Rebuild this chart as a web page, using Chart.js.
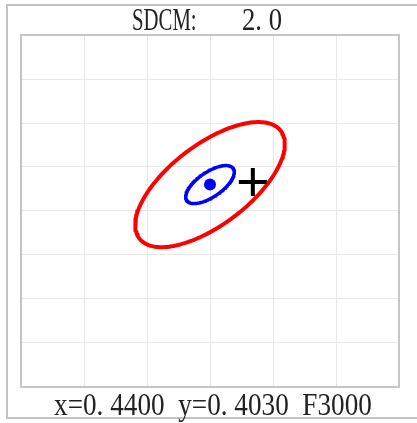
<!DOCTYPE html>
<html>
<head>
<meta charset="utf-8">
<script src="https://cdn.jsdelivr.net/npm/chart.js@4"></script>
<style>
  html, body { margin: 0; padding: 0; background: #fff; overflow: hidden; }
  #wrap { position: relative; width: 417px; height: 423px; overflow: hidden; }
  canvas { position: absolute; left: 0; top: 0; }
  .txt { position: absolute; font-family: "Liberation Serif", serif; color: #222; white-space: pre; line-height: 1; }
  #t1 { left: 132px; top: 4px; font-size: 31px; transform: scaleX(0.67); transform-origin: left top; }
  #t2 { left: 242px; top: 4px; font-size: 31px; transform: scaleX(0.86); transform-origin: left top; }
  #bottom { right: 45px; top: 388px; font-size: 32px; transform: scaleX(0.85); transform-origin: right top; }
</style>
</head>
<body>
<div id="wrap">
  <canvas id="chart" width="417" height="423"></canvas>
  <div class="txt" id="t1">SDCM:</div>
  <div class="txt" id="t2">2. 0</div>
  <div class="txt" id="bottom">x=0. 4400  y=0. 4030  F3000</div>
</div>
<script>
// grid ticks (chromaticity x, y)
const xTicks = [0.425, 0.430, 0.435, 0.440, 0.445, 0.450, 0.455];
const yTicks = [0.380, 0.385, 0.390, 0.395, 0.400, 0.405, 0.410, 0.415, 0.420];

// ellipses: outer (red) and inner (blue)
const ellipseColors = ['#ff0000', '#0000ff'];
const ellipseCx = [0.4400, 0.4400];
const ellipseCy = [0.4030, 0.4030];
const ellipseA = [0.00844, 0.00264];
const ellipseB = [0.00381, 0.00119];
const ellipseDeg = [52.8, 49.9];

// target (dot) and measured (cross) points
const targetPt = [0.4400, 0.4030];
const measuredPt = [0.4434, 0.4033];

function ellipseOutline(i) {
  const pts = [];
  const th = ellipseDeg[i] * Math.PI / 180;
  for (let k = 0; k <= 180; k++) {
    const t = k / 180 * 2 * Math.PI;
    const u = ellipseA[i] * Math.cos(t), v = ellipseB[i] * Math.sin(t);
    pts.push({ x: ellipseCx[i] + u * Math.cos(th) - v * Math.sin(th),
               y: ellipseCy[i] + u * Math.sin(th) + v * Math.cos(th) });
  }
  return pts;
}

// outer panel frame (right side runs off the page) + plot border
const frames = {
  id: 'frames',
  beforeDraw(chart) {
    const ctx = chart.ctx;
    ctx.save();
    ctx.strokeStyle = '#c2c2c2';
    ctx.lineWidth = 2;
    ctx.beginPath();
    ctx.moveTo(417, 5);
    ctx.lineTo(7, 5);
    ctx.lineTo(7, 418);
    ctx.lineTo(417, 418);
    ctx.stroke();
    ctx.restore();
  },
  beforeDatasetsDraw(chart) {
    const { ctx, chartArea: a } = chart;
    ctx.save();
    ctx.strokeStyle = '#c6c6c6';
    ctx.lineWidth = 2;
    ctx.strokeRect(a.left, a.top, a.right - a.left, a.bottom - a.top);
    ctx.restore();
  }
};

new Chart(document.getElementById('chart'), {
  type: 'scatter',
  data: {
    datasets: [
      { label: 'measured', data: [{ x: measuredPt[0], y: measuredPt[1] }], pointStyle: 'cross',
        pointRadius: 14, borderColor: '#000', borderWidth: 4 },
      { label: 'target', data: [{ x: targetPt[0], y: targetPt[1] }], pointRadius: 6,
        backgroundColor: '#0000ff', borderWidth: 0 },
      ...ellipseColors.map((c, i) => ({
        label: 'ellipse ' + i, data: ellipseOutline(i), showLine: true, pointRadius: 0,
        borderColor: c, borderWidth: i === 0 ? 4 : 3.5, fill: false, tension: 0,
        borderJoinStyle: 'round', borderCapStyle: 'round'
      }))
    ]
  },
  options: {
    responsive: false,
    animation: false,
    layout: { padding: { left: 21, top: 35, right: 6, bottom: 36 } },
    plugins: { legend: { display: false }, tooltip: { enabled: false } },
    scales: {
      x: { type: 'linear', min: xTicks[0], max: xTicks[xTicks.length - 1],
           afterBuildTicks: s => { s.ticks = xTicks.map(v => ({ value: v })); },
           afterFit: s => { s.height = 0; s.paddingLeft = 0; s.paddingRight = 0; },
           ticks: { display: false }, border: { display: false },
           grid: { color: '#e8e8e8', lineWidth: 1, drawTicks: false, tickLength: 0 } },
      y: { type: 'linear', min: yTicks[0], max: yTicks[yTicks.length - 1],
           afterBuildTicks: s => { s.ticks = yTicks.map(v => ({ value: v })); },
           afterFit: s => { s.width = 0; s.paddingTop = 0; s.paddingBottom = 0; },
           ticks: { display: false }, border: { display: false },
           grid: { color: '#e8e8e8', lineWidth: 1, drawTicks: false, tickLength: 0 } }
    }
  },
  plugins: [frames]
});
</script>
</body>
</html>
